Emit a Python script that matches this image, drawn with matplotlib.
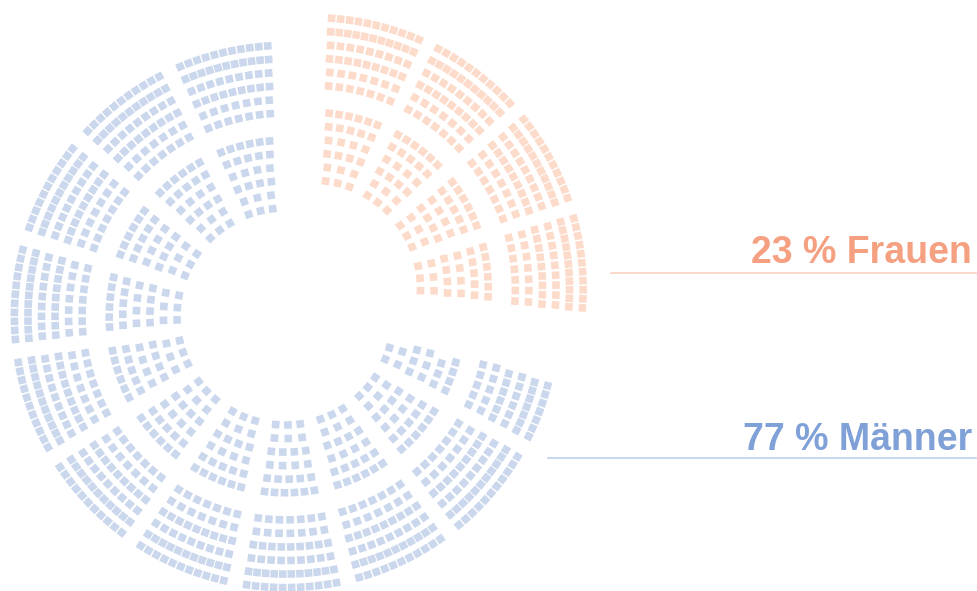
import numpy as np
import matplotlib
matplotlib.use("Agg")
import matplotlib.pyplot as plt
from matplotlib.patches import Polygon
from matplotlib.collections import PatchCollection

# ---- data ----
groups = ["Frauen", "Männer"]
shares = [23, 77]                       # percent, as labelled
seats = [316, 843]                      # seats drawn per group
inner_row_seats = [3, 3, 4, 4, 5, 6]    # seats per row of an inner block (inside -> out)
outer_row_seats = [7, 7, 9, 9, 11, 11]  # seats per row of an outer block (inside -> out)

seat_colors = ["#FDDBCA", "#CAD7EC"]
text_colors = ["#F5A081", "#7FA1D8"]
line_colors = ["#FBD3C2", "#BFD0EC"]

# ---- layout ----
W, H = 978, 591
fig = plt.figure(figsize=(W / 100, H / 100), dpi=100)
ax = fig.add_axes([0, 0, 1, 1])
ax.set_xlim(0, W)
ax.set_ylim(H, 0)
ax.set_aspect("equal")
ax.axis("off")

row_step = 13.55
r0 = 108.5
inner_radii = [r0 + row_step * k for k in range(6)]
outer_radii = [r0 + row_step * k for k in range(7, 13)]
wedge_inner = 19.5
wedge_outer = 21.0
seat_size = 7.6


def sector_seats(center_deg):
    """all seat positions (angle, radius) of one sector, sorted by angle"""
    pts = []
    for radii, counts, wedge in ((inner_radii, inner_row_seats, wedge_inner),
                                 (outer_radii, outer_row_seats, wedge_outer)):
        for r, n in zip(radii, counts):
            for j in range(n):
                a = center_deg - wedge / 2 + wedge * (j + 0.5) / n
                pts.append((a, r))
    pts.sort(key=lambda p: p[0])
    return pts


def draw_group(n_seats, centers, origin, color):
    cx, cy = origin
    polys = []
    left = n_seats
    for c in centers:
        if left <= 0:
            break
        pts = sector_seats(c)[:left]
        left -= len(pts)
        for a, r in pts:
            t = np.deg2rad(a)
            x = cx + r * np.cos(t)
            y = cy - r * np.sin(t)
            u = np.array([np.cos(t), -np.sin(t)])      # radial
            v = np.array([-np.sin(t), -np.cos(t)])     # tangential
            h = seat_size / 2
            verts = [np.array([x, y]) + su * h * u + sv * h * v
                     for su, sv in ((-1, -1), (1, -1), (1, 1), (-1, 1))]
            polys.append(Polygon(verts, closed=True))
    ax.add_collection(PatchCollection(polys, facecolor=color, edgecolor="none"))


per_sector = sum(inner_row_seats) + sum(outer_row_seats)
n_men_sectors = int(np.ceil(seats[1] / per_sector))
n_women_sectors = int(np.ceil(seats[0] / per_sector))

men_centers = [103.3 + 24.0 * k for k in range(n_men_sectors)]
women_centers = [5.5 + 23.6 * k for k in range(n_women_sectors)]

draw_group(seats[1], men_centers, (285.5, 316.5), seat_colors[1])
draw_group(seats[0], women_centers, (312.0, 288.7), seat_colors[0])

# ---- labels ----
labels = [f"{shares[0]} % {groups[0]}", f"{shares[1]} % {groups[1]}"]
label_y = [263, 450]
line_y = [273.3, 458.5]
line_x0 = [611, 548]
for i in range(2):
    ax.text(972, label_y[i], labels[i], ha="right", va="baseline",
            fontsize=27, fontweight="bold", color=text_colors[i],
            family=["Liberation Sans", "DejaVu Sans"])
    ax.plot([line_x0[i], 976], [line_y[i], line_y[i]], color=line_colors[i], lw=1.2)

fig.savefig("out.png", dpi=100, facecolor="white")
